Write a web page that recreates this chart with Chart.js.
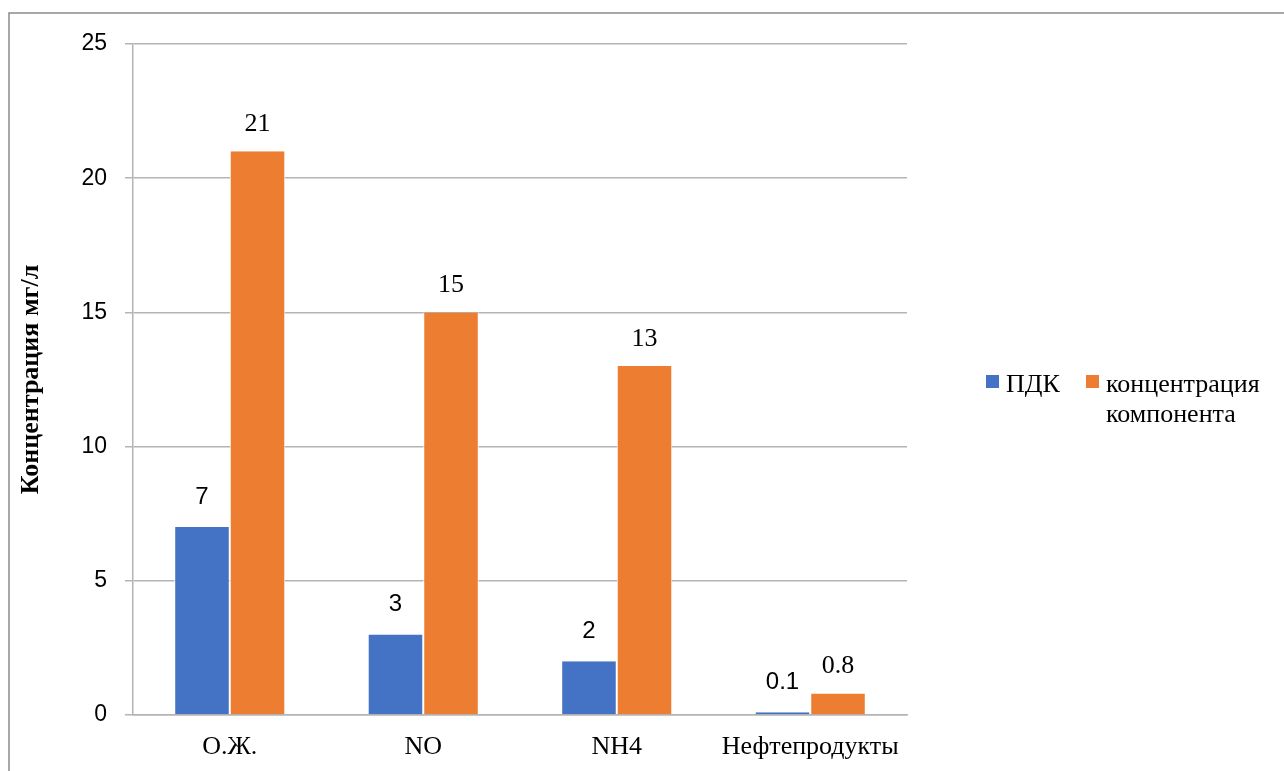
<!DOCTYPE html>
<html>
<head>
<meta charset="utf-8">
<script src="https://cdn.jsdelivr.net/npm/chart.js@4/dist/chart.umd.min.js"></script>
<style>
  html, body { margin: 0; padding: 0; background: #fff; }
  #wrap { width: 1284px; height: 771px; position: relative; }
</style>
</head>
<body>
<div id="wrap"><canvas id="chart" width="1284" height="771"></canvas></div>
<script>
const categories = ['О.Ж.', 'NO', 'NH4', 'Нефтепродукты'];
const pdkValues = [7, 3, 2, 0.1];
const concValues = [21, 15, 13, 0.8];
const seriesNames = ['ПДК', ['концентрация', 'компонента']];
const yTicks = [0, 5, 10, 15, 20, 25];

const gridGray = '#b4b4b4';
const serif = "'Liberation Serif', 'Times New Roman', serif";
const sans = "'Liberation Sans', Arial, sans-serif";

// gray frame around the chart object (only top and left are visible)
const framePlugin = {
  id: 'frame',
  beforeDraw(chart) {
    const ctx = chart.ctx;
    ctx.save();
    ctx.fillStyle = '#fff';
    ctx.fillRect(0, 0, chart.width, chart.height);
    ctx.strokeStyle = '#8c8c8c';
    ctx.lineWidth = 1.5;
    ctx.beginPath();
    ctx.moveTo(9, chart.height + 5);
    ctx.lineTo(9, 13);
    ctx.lineTo(chart.width + 5, 13);
    ctx.stroke();
    ctx.restore();
  }
};

// value labels above every bar
const valueLabels = {
  id: 'valueLabels',
  afterDatasetsDraw(chart) {
    const ctx = chart.ctx;
    ctx.save();
    ctx.fillStyle = '#000';
    ctx.textAlign = 'center';
    ctx.textBaseline = 'middle';
    chart.data.datasets.forEach((ds, i) => {
      ctx.font = i === 0 ? '24px ' + sans : '26px ' + serif;
      const lift = i === 0 ? 30 : 27;
      chart.getDatasetMeta(i).data.forEach((bar, j) => {
        ctx.fillText(String(ds.data[j]), bar.x, bar.y - lift);
      });
    });
    ctx.restore();
  }
};

// legend on the right, with a two-line label
const sideLegend = {
  id: 'sideLegend',
  afterDraw(chart) {
    const ctx = chart.ctx;
    const items = chart.data.datasets;
    const xs = [986, 1086];
    const y = 382;
    ctx.save();
    ctx.font = '26px ' + serif;
    ctx.textBaseline = 'middle';
    ctx.textAlign = 'left';
    items.forEach((ds, i) => {
      ctx.fillStyle = ds.backgroundColor;
      ctx.fillRect(xs[i], y - 7, 13, 13);
      ctx.fillStyle = '#000';
      const lines = [].concat(seriesNames[i]);
      lines.forEach((t, k) => ctx.fillText(t, xs[i] + 20, y + 3 + k * 30));
    });
    ctx.restore();
  }
};

const barEdge = { top: 0, left: 1, right: 1, bottom: 0 };

new Chart(document.getElementById('chart'), {
  type: 'bar',
  data: {
    labels: categories,
    datasets: [
      { label: 'ПДК', data: pdkValues, backgroundColor: '#4472c4', borderColor: '#ffffff', borderWidth: barEdge },
      { label: 'концентрация компонента', data: concValues, backgroundColor: '#ed7d31', borderColor: '#ffffff', borderWidth: barEdge }
    ]
  },
  options: {
    responsive: false,
    animation: false,
    layout: { padding: { left: 0, right: 377, top: 44, bottom: 0 } },
    datasets: { bar: { categoryPercentage: 0.574, barPercentage: 1 } },
    plugins: {
      legend: { display: false },
      tooltip: { enabled: false }
    },
    scales: {
      x: {
        grid: { display: false, drawTicks: false },
        border: { display: true, color: gridGray, width: 1.5 },
        ticks: { color: '#000', font: { family: serif, size: 26 }, padding: 17, maxRotation: 0 },
        afterFit(scale) { scale.height = 56; }
      },
      y: {
        min: 0,
        max: 25,
        afterBuildTicks(scale) { scale.ticks = yTicks.map(v => ({ value: v })); },
        grid: { color: gridGray, lineWidth: 1.5, tickLength: 8 },
        border: { display: true, color: gridGray, width: 1.5 },
        ticks: { color: '#000', font: { family: sans, size: 23 }, padding: 18 },
        title: {
          display: true,
          text: 'Концентрация мг/л',
          color: '#000',
          font: { family: serif, size: 26, weight: 'bold' },
          padding: { top: 16, bottom: 0 }
        },
        afterFit(scale) { scale.width = 133; }
      }
    }
  },
  plugins: [framePlugin, valueLabels, sideLegend]
});
</script>
</body>
</html>
